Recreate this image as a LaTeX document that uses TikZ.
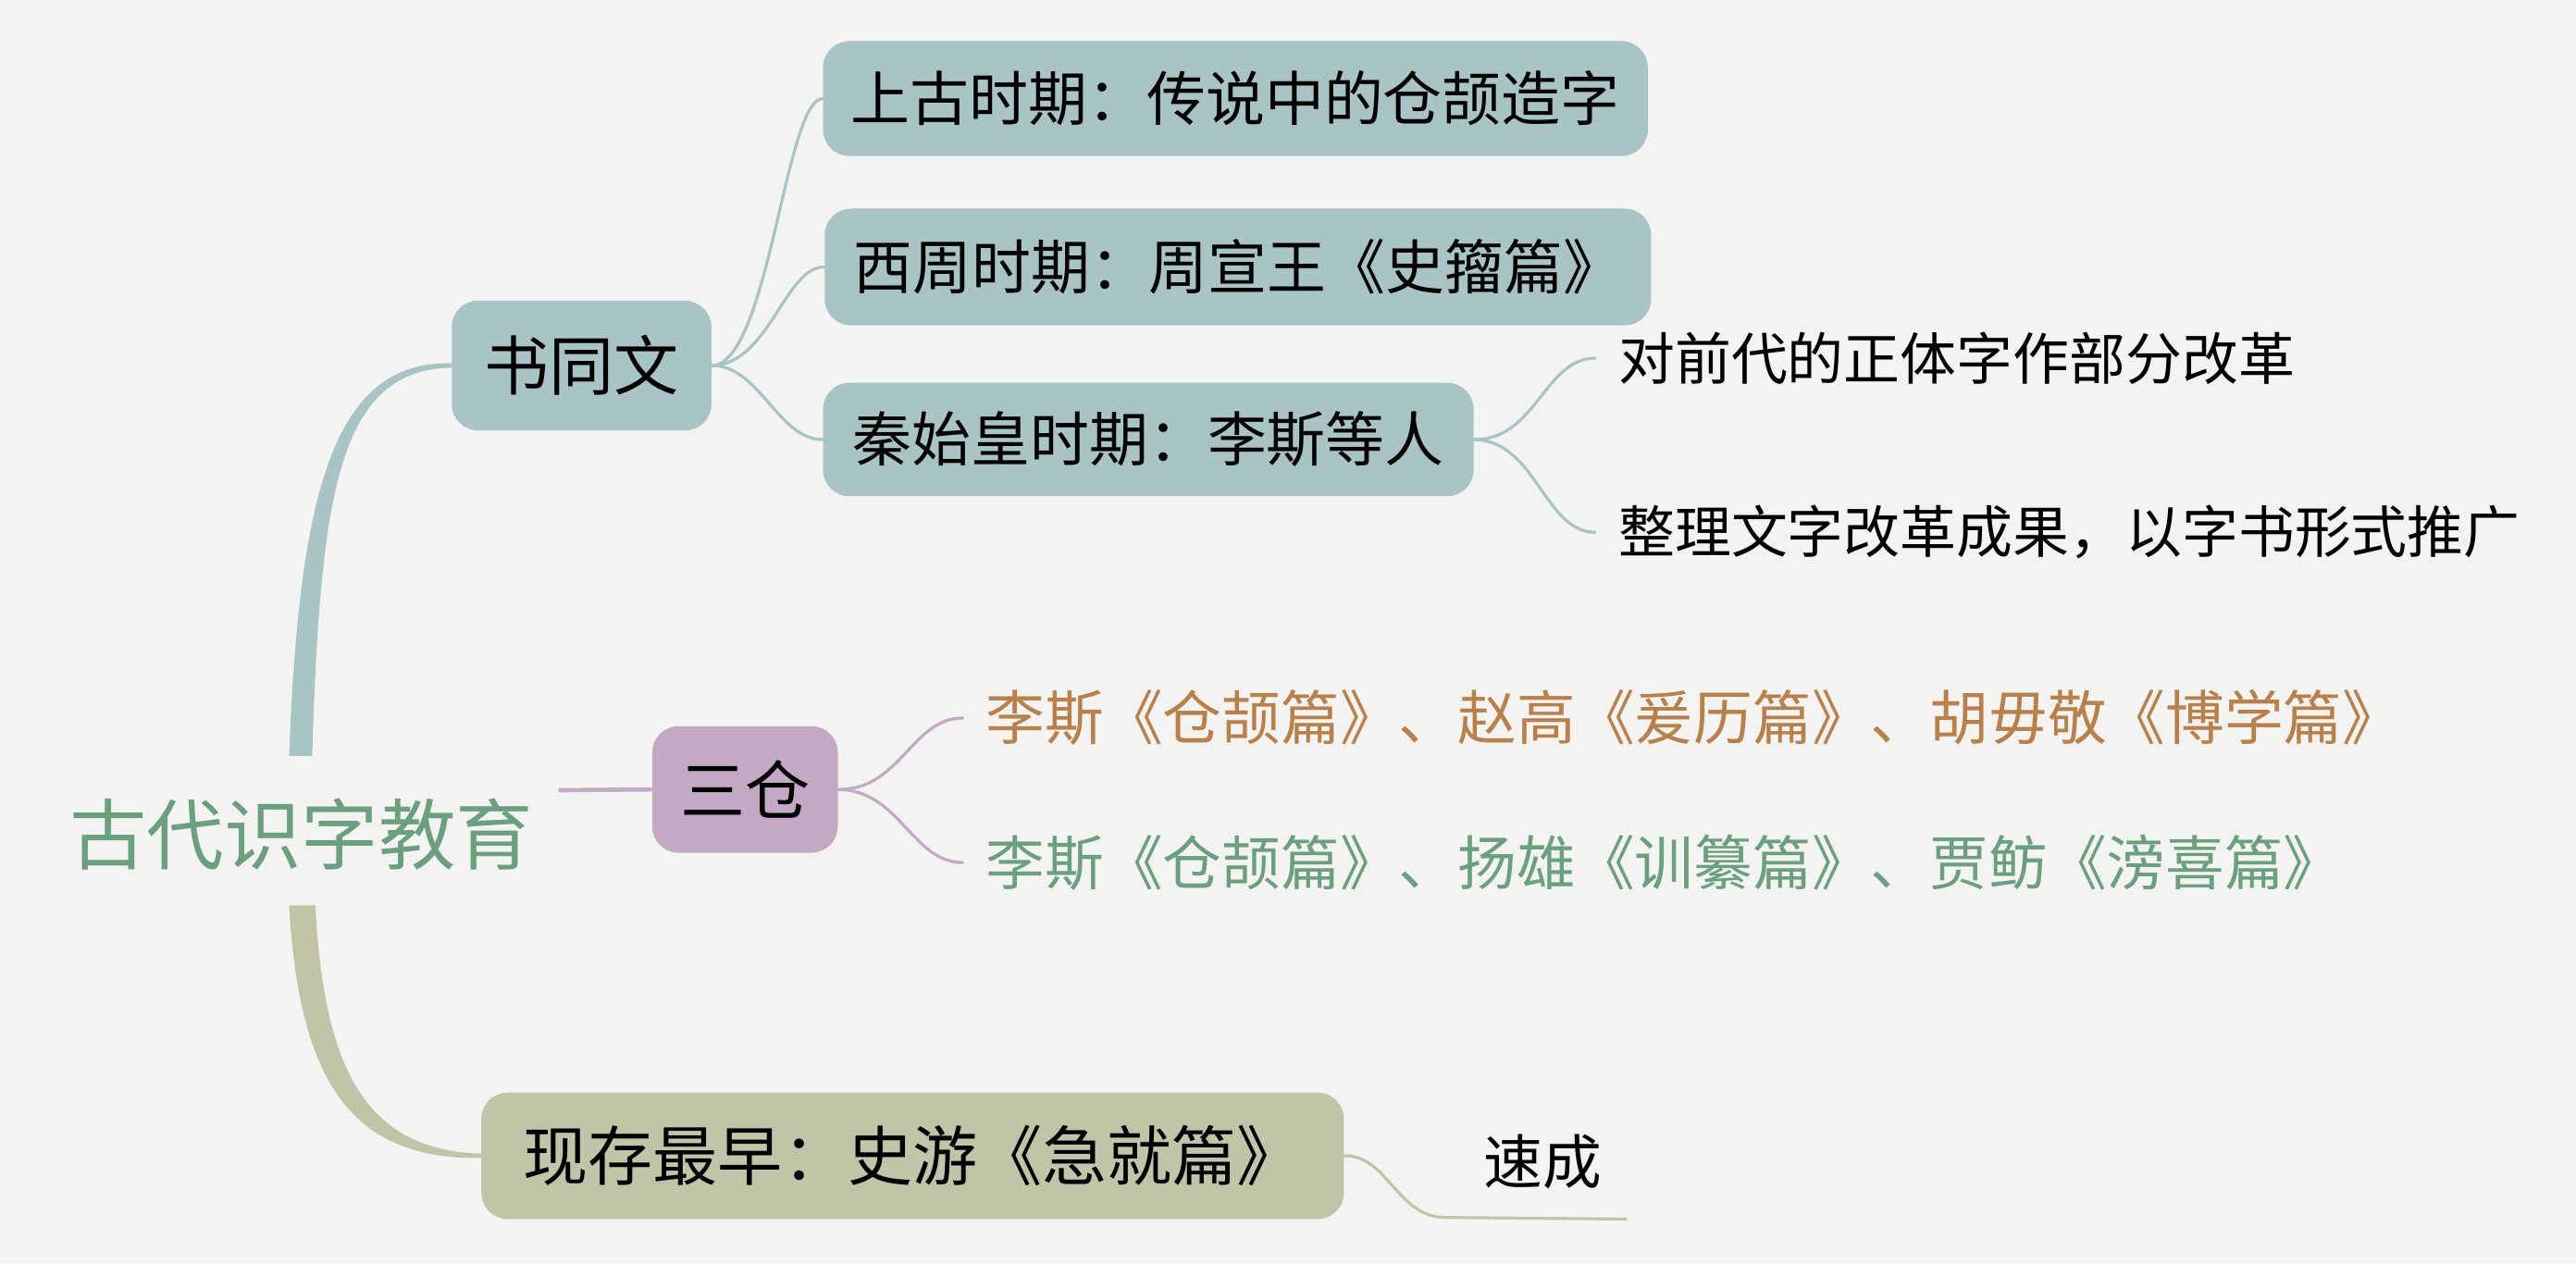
\documentclass[tikz,border=0pt]{standalone}
\usepackage{fontspec}
\newfontfamily\cjk{Noto Sans CJK SC}
\usetikzlibrary{calc}
\definecolor{bgc}{HTML}{F3F3F2}
\definecolor{tealc}{HTML}{A9C4C4}
\definecolor{olivec}{HTML}{C2C4A7}
\definecolor{purplec}{HTML}{C4A9C4}
\definecolor{brownc}{HTML}{B98049}
\definecolor{greenc}{HTML}{6AA07D}
\begin{document}
\begin{tikzpicture}[x=1pt,y=-1pt,
  box/.style={fill=#1, rounded corners=16pt, inner sep=0pt, text=black, anchor=center},
  big/.style={font=\cjk\fontsize{39.5}{44}\selectfont},
  mid/.style={font=\cjk\fontsize{36}{40}\selectfont},
  leaf/.style={anchor=west, inner xsep=14pt, inner ysep=4pt, font=\cjk\fontsize{34.3}{40}\selectfont},
  cleaf/.style={leaf, font=\cjk\fontsize{35.9}{40}\selectfont},
  conn/.style={draw=#1, line width=1.8pt, line cap=round}
]
\useasboundingbox[fill=bgc] (0,0) rectangle (1568,769);

% root
\node[inner xsep=15pt, text=greenc, font=\cjk\fontsize{47}{52}\selectfont] (root) at (183.5,508) {古代识字教育};
\coordinate (rt) at (183,460);
\coordinate (rb) at (184,551);
\coordinate (rr) at (340,481);

% level 1
\node[box=tealc, big, minimum width=158pt, minimum height=79pt] (sw) at (354,222.5) {书同文};
\node[box=purplec, big, minimum width=113pt, minimum height=77pt] (sc) at (453.5,480.5) {三仓};
\node[box=olivec, big, minimum width=525pt, minimum height=77pt] (xc) at (555.5,703.5) {现存最早：史游《急就篇》};

% level 2
\node[box=tealc, mid, minimum width=502pt, minimum height=70pt] (sg) at (752,60) {上古时期：传说中的仓颉造字};
\node[box=tealc, mid, minimum width=503pt, minimum height=71pt] (xz) at (753.5,162.5) {西周时期：周宣王《史籀篇》};
\node[box=tealc, mid, minimum width=396pt, minimum height=69pt] (qs) at (699,267.5) {秦始皇时期：李斯等人};

% leaves
\node[leaf] (l1) at (971,218) {对前代的正体字作部分改革};
\node[leaf] (l2) at (971,324) {整理文字改革成果，以字书形式推广};
\node[cleaf, text=brownc] (l3) at (586,437) {李斯《仓颉篇》、赵高《爰历篇》、胡毋敬《博学篇》};
\node[cleaf, text=greenc] (l4) at (586,525) {李斯《仓颉篇》、扬雄《训纂篇》、贾鲂《滂喜篇》};
\node[cleaf, inner xsep=0pt] (l5) at (903,707) {速成};
\coordinate (l5end) at (990,742);

% main tapered branches
\fill[tealc] ($(rt)+(-7,0)$) .. controls (182,300) and (203,219) .. ($(sw.west)+(0,-1.3)$)
  -- ($(sw.west)+(0,1.3)$) .. controls (206,225) and (195,300) .. ($(rt)+(7,0)$) -- cycle;
\fill[olivec] ($(rb)+(-8,0)$) .. controls (182,660) and (215,706) .. ($(xc.west)+(0,1.3)$)
  -- ($(xc.west)+(0,-1.3)$) .. controls (222,700) and (197,650) .. ($(rb)+(8,0)$) -- cycle;
\draw[purplec, line width=2.6pt] (rr) -- (sc.west);

% level-2 connectors
\draw[conn=tealc] (sw.east) .. controls (468,222) and (478,60) .. (sg.west);
\draw[conn=tealc] (sw.east) .. controls (468,222) and (478,162) .. (xz.west);
\draw[conn=tealc] (sw.east) .. controls (462,222) and (474,268) .. (qs.west);

% leaf connectors
\draw[conn=tealc] (qs.east) .. controls (935,268) and (940,218) .. (l1.west);
\draw[conn=tealc] (qs.east) .. controls (935,268) and (940,324) .. (l2.west);
\draw[conn=purplec] (sc.east) .. controls (548,481) and (555,437) .. (l3.west);
\draw[conn=purplec] (sc.east) .. controls (548,481) and (555,525) .. (l4.west);
\draw[conn=olivec] (xc.east) .. controls (845,703) and (850,741) .. (880,741) -- (l5end);
\end{tikzpicture}
\end{document}
